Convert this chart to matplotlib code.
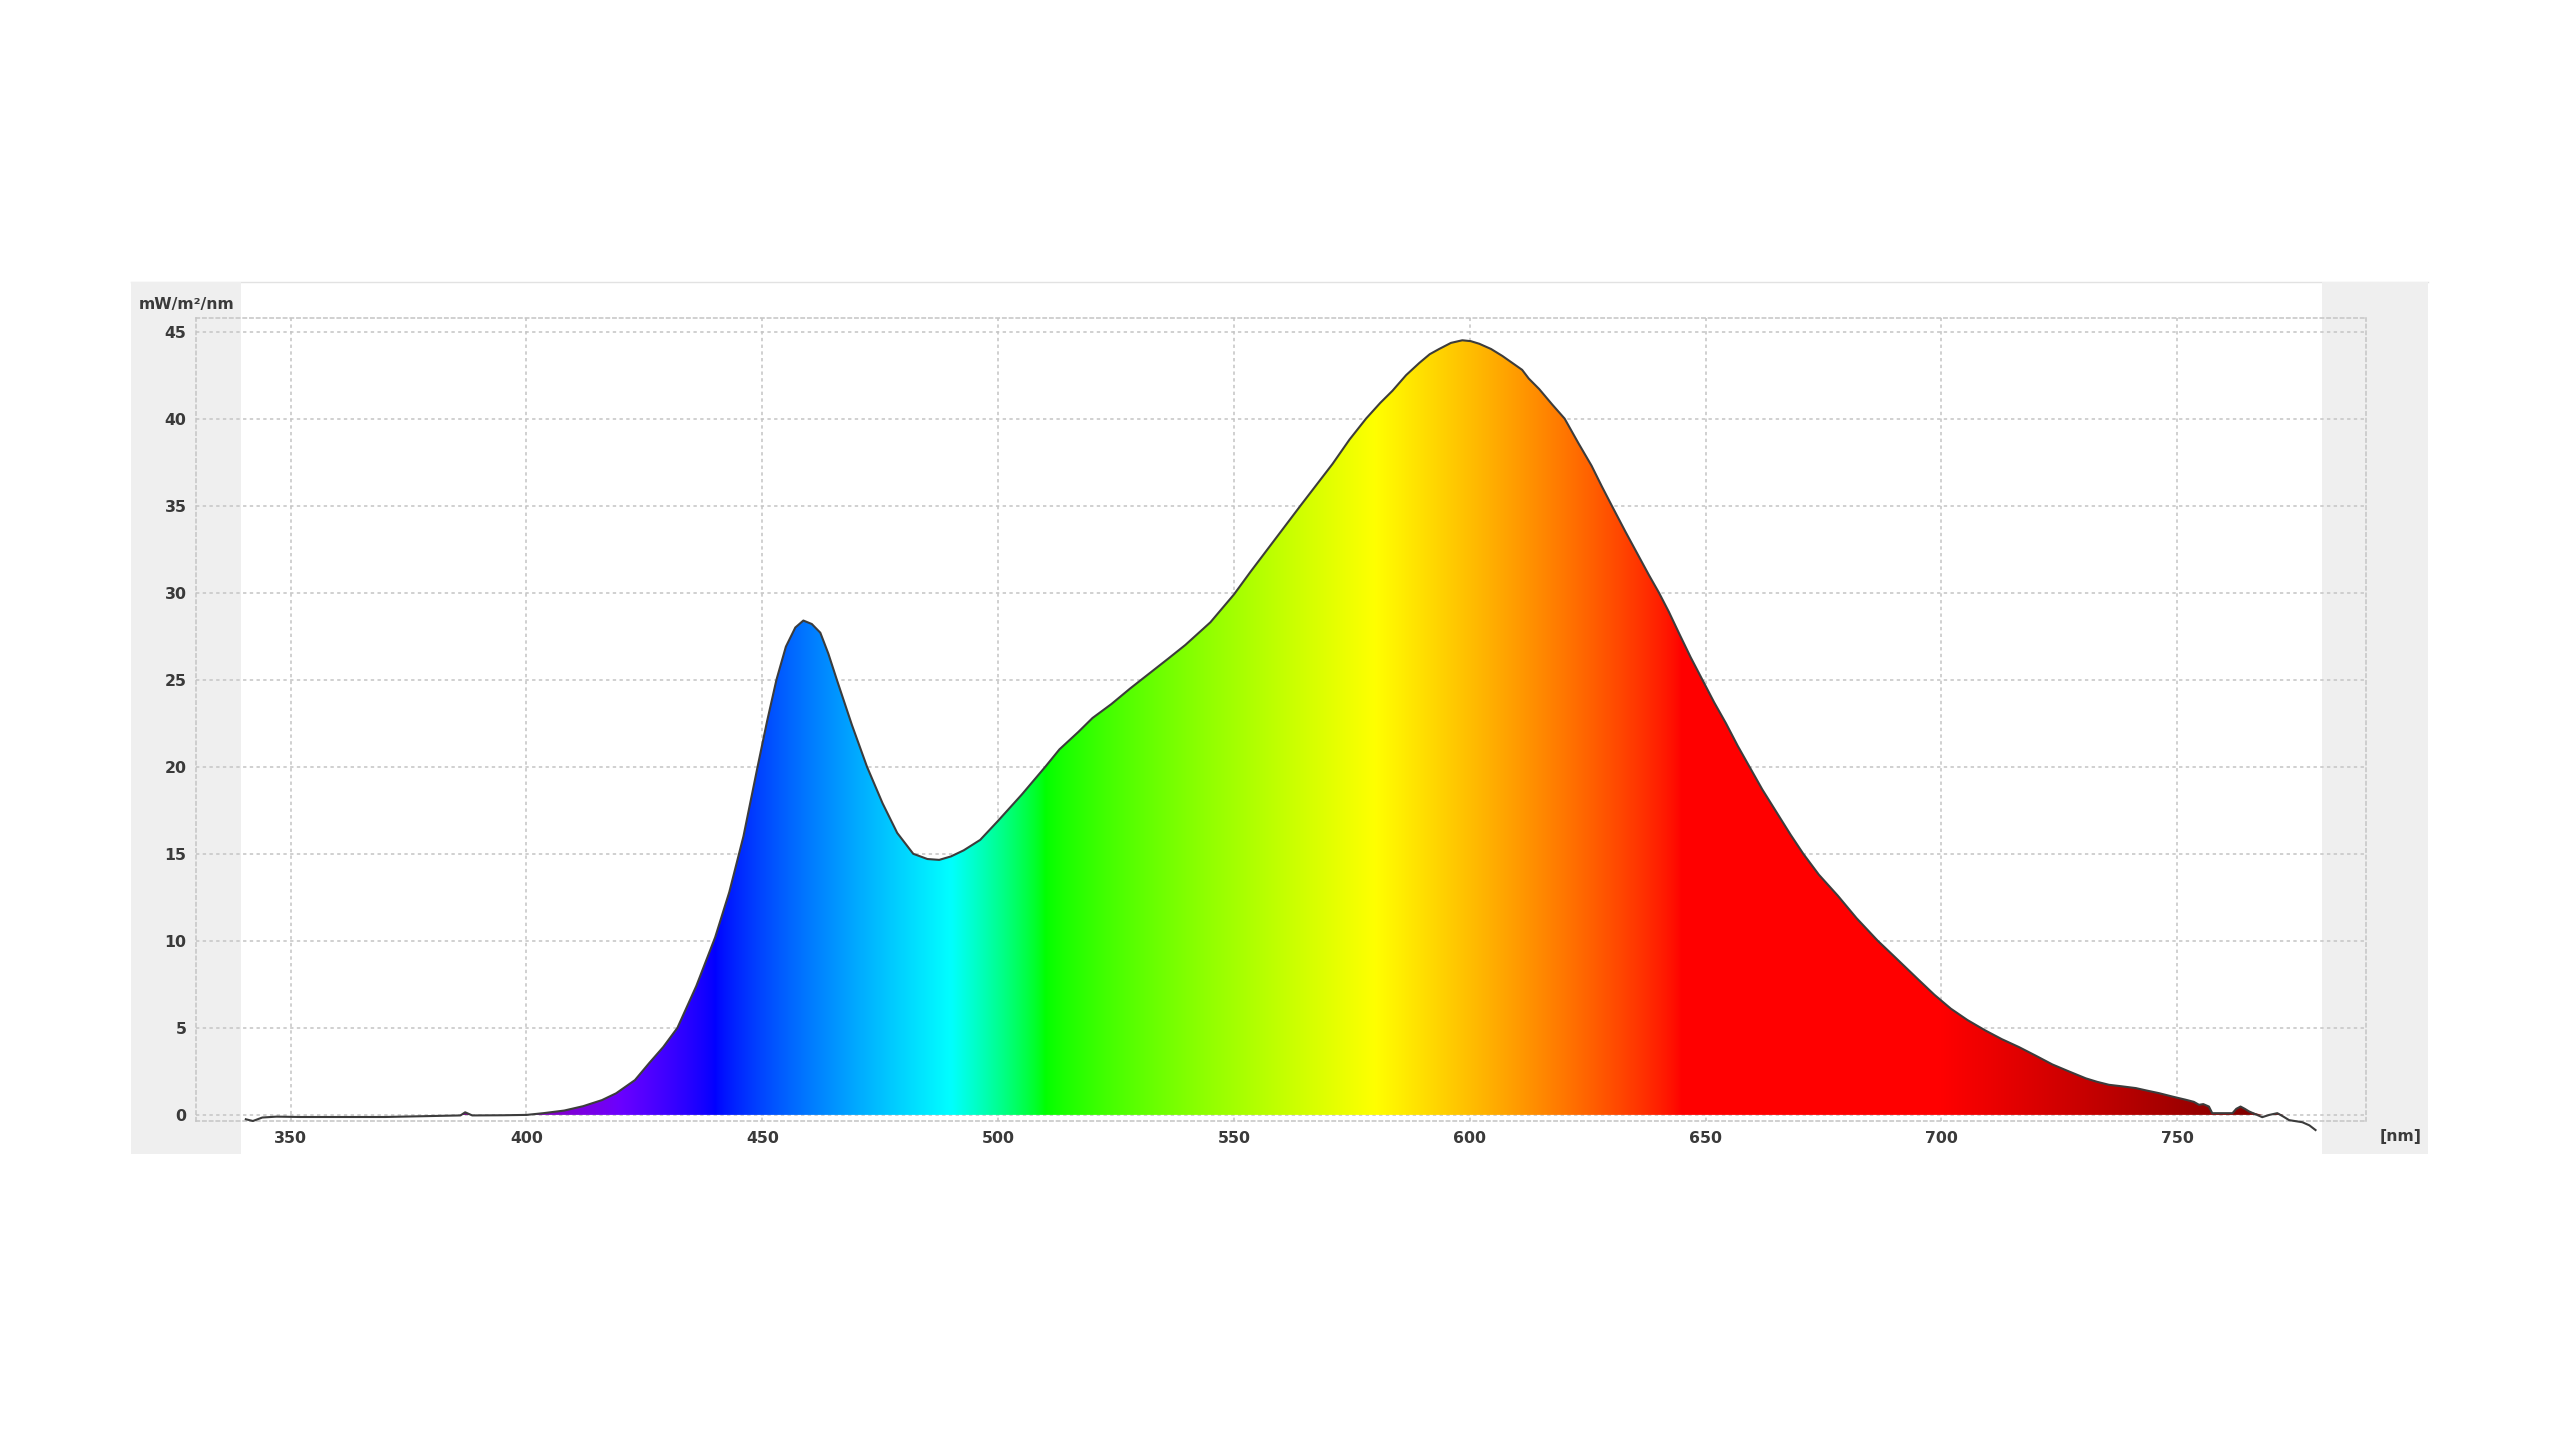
import numpy as np
import matplotlib
matplotlib.use("Agg")
import matplotlib.pyplot as plt
from matplotlib.patches import Rectangle, Polygon

wavelength_nm = [
    340.5, 342, 344, 347, 352, 360, 370, 380, 386, 387, 388.5, 395, 400,
    403.6, 408, 412, 416, 419, 423, 426, 429, 432, 436, 440, 443, 446, 449,
    451, 453, 455, 457, 458.7, 460.5, 462.3, 464, 465.8, 469, 472.2, 475.5,
    478.6, 482, 485, 487.5, 490, 492.7, 496.2, 500, 505, 510, 513, 517, 520,
    524, 528, 532.7, 536, 539.7, 545, 550, 553.5, 557.4, 561, 564.1, 567.5,
    570.9, 574.5, 578, 581, 583.6, 586.5, 589.3, 591.5, 593.5, 596, 598.4,
    600.2, 602, 604.5, 606.9, 609, 611.1, 612.5, 614.7, 617.5, 620.1, 623,
    625.8, 628, 630.1, 633, 635.8, 638, 640.1, 642.2, 644.3, 646.8, 649.3,
    651.8, 654.3, 656.8, 659.3, 662, 665, 668, 670.7, 674, 678, 682, 686.5,
    690, 695, 698.5, 702, 705.5, 709.3, 712.8, 716.4, 720, 723.5, 727, 730.6,
    733, 735.5, 738, 741.2, 743.5, 746.1, 749, 751.8, 753.5, 754.6, 755.5,
    756.7, 757.4, 761.7, 762.5, 763.4, 764.3, 765.2, 768, 769.5, 771.2,
    772.5, 773.7, 776.5, 778, 779.3,
]
irradiance = [
    -0.25, -0.35, -0.15, -0.1, -0.12, -0.12, -0.12, -0.06, -0.03, 0.15, -0.03, -0.02, 0.0,
    0.1, 0.25, 0.5, 0.85, 1.24, 2.0, 2.97, 3.9, 5.0, 7.4, 10.2, 12.8, 16.0, 20.0,
    22.6, 25.0, 26.9, 28.0, 28.4, 28.2, 27.7, 26.5, 25.0, 22.4, 20.0, 17.9,
    16.2, 15.0, 14.7, 14.65, 14.85, 15.2, 15.8, 16.9, 18.4, 20.0, 21.0, 22.0, 22.8,
    23.6, 24.5, 25.5, 26.2, 27.0, 28.3, 29.9, 31.2, 32.6, 33.9, 35.0, 36.2,
    37.4, 38.8, 40.0, 40.9, 41.6, 42.5, 43.2, 43.7, 44.0, 44.35, 44.5,
    44.45, 44.3, 44.0, 43.6, 43.2, 42.8, 42.3, 41.7, 40.8, 40.0, 38.6,
    37.3, 36.1, 35.0, 33.5, 32.1, 31.0, 30.0, 28.9, 27.7, 26.3, 25.0,
    23.7, 22.5, 21.2, 20.0, 18.7, 17.4, 16.1, 15.0, 13.8, 12.6, 11.3, 10.0,
    9.1, 7.8, 6.9, 6.1, 5.45, 4.85, 4.35, 3.9, 3.4, 2.9, 2.5, 2.1,
    1.9, 1.73, 1.65, 1.54, 1.4, 1.25, 1.05, 0.87, 0.75, 0.58, 0.62,
    0.48, 0.1, 0.1, 0.35, 0.48, 0.35, 0.2, -0.13, 0.0, 0.1,
    -0.1, -0.3, -0.42, -0.6, -0.87,
]
x_ticks = [350, 400, 450, 500, 550, 600, 650, 700, 750]
y_ticks = [0, 5, 10, 15, 20, 25, 30, 35, 40, 45]

TEXT_COLOR = "#3a3a3a"
GRID_COLOR = "#c4c4c4"
PANEL_GRAY = "#efefef"


def spectrum_rgb(w, gamma=0.8):
    # classic wavelength -> rgb approximation
    if 380 <= w < 440:
        r, g, b = -(w - 440) / 60.0, 0.0, 1.0
    elif 440 <= w < 490:
        r, g, b = 0.0, (w - 440) / 50.0, 1.0
    elif 490 <= w < 510:
        r, g, b = 0.0, 1.0, -(w - 510) / 20.0
    elif 510 <= w < 580:
        r, g, b = (w - 510) / 70.0, 1.0, 0.0
    elif 580 <= w < 645:
        r, g, b = 1.0, -(w - 645) / 65.0, 0.0
    elif 645 <= w <= 790:
        r, g, b = 1.0, 0.0, 0.0
    else:
        r, g, b = 0.5, 0.0, 1.0
    if w < 420:
        f = 0.3 + 0.7 * max(w - 380, 0) / 40.0
    elif w > 700:
        f = max(0.3 + 0.7 * (780 - w) / 80.0, 0.3)
    else:
        f = 1.0
    return [(c * f) ** gamma for c in (r, g, b)]


fig = plt.figure(figsize=(25.6, 14.4), dpi=100)
fig.patch.set_facecolor("white")

W, H = 2560.0, 1440.0
# instrument panel: grey side strips, white middle (behind the axes)
fig.patches.append(Rectangle((131 / W, 1 - 1154 / H), (241 - 131) / W, (1154 - 282) / H,
                             transform=fig.transFigure, facecolor=PANEL_GRAY, edgecolor="none", zorder=-1))
fig.patches.append(Rectangle((2322 / W, 1 - 1154 / H), (2428 - 2322) / W, (1154 - 282) / H,
                             transform=fig.transFigure, facecolor=PANEL_GRAY, edgecolor="none", zorder=-1))
fig.lines.append(plt.Line2D([131 / W, 2428 / W], [1 - 282 / H, 1 - 282 / H], transform=fig.transFigure,
                            color="#e2e2e2", lw=1.0, zorder=-1))

ax = fig.add_axes([196.3 / W, 1 - 1121 / H, (2366 - 196.3) / W, (1121 - 318) / H])
ax.set_facecolor("none")
ax.set_xlim(330, 790)
ax.set_ylim(-0.35, 45.78)

wl = np.array(wavelength_nm)
val = np.array(irradiance)

# rainbow fill clipped to the area under the curve
grid_wl = np.linspace(330, 790, 1400)
img = np.array([spectrum_rgb(w) for w in grid_wl])[np.newaxis, :, :]
im = ax.imshow(img, extent=[330, 790, -0.35, 45.78], aspect="auto", origin="lower",
               interpolation="bilinear", zorder=2)
pos = np.clip(val, 0, None)
verts = [(wl[0], 0)] + list(zip(wl, pos)) + [(wl[-1], 0)]
area = Polygon(verts, closed=True, facecolor="none", edgecolor="none", transform=ax.transData)
ax.add_patch(area)
im.set_clip_path(area)

ax.plot(wl, val, color="#3c3c3c", lw=1.5, zorder=3, clip_on=False, solid_joinstyle="round")

ax.set_xticks(x_ticks)
ax.set_yticks(y_ticks)
ax.grid(True, color=GRID_COLOR, linestyle=(0, (2.2, 2.2)), lw=1.1, zorder=1)
ax.set_axisbelow(True)
for sp in ax.spines.values():
    sp.set_color(GRID_COLOR)
    sp.set_linestyle((0, (2.2, 2.2)))
    sp.set_linewidth(1.1)
ax.tick_params(axis="both", length=0, colors=TEXT_COLOR, labelsize=11.3)
ax.tick_params(axis="x", pad=7)
ax.tick_params(axis="y", pad=7)
for lab in ax.get_xticklabels() + ax.get_yticklabels():
    lab.set_fontweight("bold")
    lab.set_color(TEXT_COLOR)

fig.text(187 / W, 1 - 304 / H, "mW/m²/nm", ha="center", va="center", fontsize=11.3,
         fontweight="bold", color=TEXT_COLOR)
fig.text(2401 / W, 1 - 1136 / H, "[nm]", ha="center", va="center", fontsize=11.3,
         fontweight="bold", color=TEXT_COLOR)

fig.savefig("out.png", dpi=100, facecolor="white")
